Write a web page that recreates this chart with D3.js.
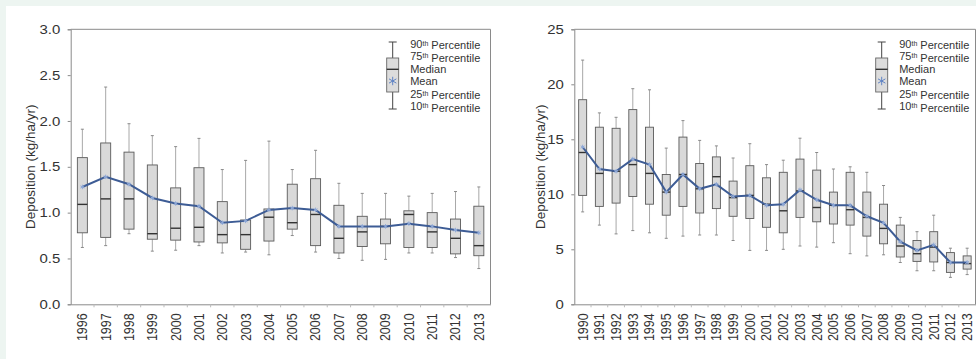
<!DOCTYPE html>
<meta charset="utf-8">
<script src="https://d3js.org/d3.v7.min.js"></script>
<style>
body { margin: 0; }
svg text { font-family: Arial, "Liberation Sans", sans-serif; fill: #333; }
.domain { stroke: #8a8a8a; }
.tick line { stroke: #8a8a8a; }
.whisker { stroke: #a8a8a8; stroke-width: 1; }
.cap { stroke: #8a8a8a; stroke-width: 1; }
.box { fill: #d9d9d9; stroke: #5a5a5a; stroke-width: 0.9; }
.median { stroke: #333; stroke-width: 1.4; }
.meanLine { fill: none; stroke: #3d5c95; stroke-width: 2; }
.meanMark { fill: none; stroke: #8fa9d8; stroke-width: 1; }
</style>
<body>
<script>

// left panel data (1996-2013)
var leftYears = ["1996","1997","1998","1999","2000","2001","2002","2003","2004","2005","2006","2007","2008","2009","2010","2011","2012","2013"];
var leftP90 = [1.91,2.37,1.97,1.84,1.72,1.81,1.47,1.57,1.78,1.47,1.68,1.32,1.21,1.21,1.18,1.21,1.23,1.28];
var leftP75 = [1.60,1.76,1.66,1.52,1.27,1.49,1.12,0.92,1.04,1.31,1.37,1.08,0.96,0.93,1.02,1.00,0.93,1.07];
var leftMedian = [1.09,1.15,1.15,0.77,0.83,0.84,0.76,0.76,0.95,0.89,0.98,0.72,0.79,0.85,0.98,0.79,0.72,0.64];
var leftMean = [1.28,1.39,1.31,1.16,1.10,1.07,0.89,0.91,1.03,1.05,1.03,0.85,0.85,0.85,0.88,0.85,0.81,0.78];
var leftP25 = [0.78,0.73,0.82,0.71,0.70,0.68,0.67,0.60,0.69,0.82,0.64,0.56,0.63,0.66,0.62,0.62,0.55,0.53];
var leftP10 = [0.62,0.64,0.77,0.58,0.59,0.64,0.56,0.57,0.54,0.75,0.57,0.50,0.48,0.49,0.56,0.56,0.51,0.39];
var leftTicks = [0, 0.5, 1.0, 1.5, 2.0, 2.5, 3.0];

// right panel data (1990-2013)
var rightYears = ["1990","1991","1992","1993","1994","1995","1996","1997","1998","1999","2000","2001","2002","2003","2004","2005","2006","2007","2008","2009","2010","2011","2012","2013"];
var rightP90 = [22.2,17.4,17.0,19.6,19.5,14.2,16.7,14.9,14.4,13.3,14.6,12.7,13.1,15.1,13.8,12.3,12.5,12.0,10.8,7.9,6.6,8.1,5.1,5.1];
var rightP75 = [18.6,16.1,16.0,17.7,16.1,11.8,15.2,12.8,13.4,11.2,12.6,11.5,12.0,13.2,12.2,10.2,12.0,10.2,9.1,7.2,5.8,6.6,4.7,4.4];
var rightMedian = [13.8,11.9,12.1,12.7,11.9,10.2,11.8,10.5,11.6,9.7,9.9,9.1,8.5,10.3,8.8,9.0,8.6,7.9,6.9,5.3,4.6,5.2,3.8,3.7];
var rightMean = [14.3,12.3,12.1,13.2,12.7,10.2,11.8,10.5,10.9,9.8,9.9,9.0,9.1,10.4,9.5,9.0,9.0,8.0,7.4,5.7,4.9,5.4,3.8,3.8];
var rightP25 = [9.9,8.9,9.2,9.8,9.1,8.1,8.9,8.3,8.7,8.0,7.8,7.0,6.5,7.9,7.5,7.3,7.2,6.2,5.5,4.3,3.9,3.85,2.9,3.2];
var rightP10 = [8.4,7.2,6.4,6.7,6.5,6.0,6.2,6.3,6.3,5.8,4.9,4.9,5.0,5.3,5.2,5.6,4.6,4.4,4.5,3.8,3.05,3.05,2.45,2.7];
var rightTicks = [0, 5, 10, 15, 20, 25];

// legend rows
var legendLabels = [["90","th"," Percentile"],["75","th"," Percentile"],["Median"],["Mean"],["25","th"," Percentile"],["10","th"," Percentile"]];

var W = 976, H = 359;

var svg = d3.select("body").append("svg")
    .attr("width", W)
    .attr("height", H);

svg.append("rect").attr("width", W).attr("height", H).attr("fill", "#edf5f1");
svg.append("rect").attr("x", 6).attr("y", 6).attr("width", W - 6).attr("height", H - 6).attr("fill", "#fff");

function drawPanel(cfg) {
  var rows = cfg.years.map(function(yr, i) {
    return {year: yr, p90: cfg.p90[i], p75: cfg.p75[i], med: cfg.med[i], mean: cfg.mean[i], p25: cfg.p25[i], p10: cfg.p10[i]};
  });

  var x = d3.scaleBand().domain(cfg.years).range([cfg.x0, cfg.x1]);
  var y = d3.scaleLinear().domain([0, cfg.ymax]).range([304.3, 29.3]);
  var g = svg.append("g");
  var cx = function(d) { return x(d.year) + x.bandwidth() / 2; };

  // frame: top and right
  g.append("line").attr("x1", cfg.x0).attr("x2", cfg.x1).attr("y1", y(cfg.ymax)).attr("y2", y(cfg.ymax))
      .attr("stroke", "#8a8a8a");
  g.append("line").attr("x1", cfg.x1).attr("x2", cfg.x1).attr("y1", y(cfg.ymax)).attr("y2", y(0))
      .attr("stroke", "#8a8a8a");

  // y axis (labels a bit wide, like the source image)
  var ya = g.append("g")
      .attr("transform", "translate(" + cfg.x0 + ",0)")
      .call(d3.axisLeft(y).tickValues(cfg.ticks).tickFormat(cfg.fmt).tickSize(3).tickPadding(7));
  ya.selectAll("text")
      .attr("x", -10.5 / 1.15)
      .attr("transform", "scale(1.15,1)")
      .style("font-size", "13px");

  // x axis, labels rotated
  var xa = g.append("g")
      .attr("transform", "translate(0," + y(0) + ")")
      .call(d3.axisBottom(x).tickSize(0));
  xa.selectAll("text")
      .attr("x", -9).attr("y", 0).attr("dy", "0.35em")
      .attr("transform", "rotate(-90) scale(1,1.12)")
      .style("text-anchor", "end")
      .style("font-size", "12.5px");
  // small boundary ticks
  g.selectAll(".bt").data(cfg.years.slice(1)).enter().append("line")
      .attr("x1", function(d) { return x(d); }).attr("x2", function(d) { return x(d); })
      .attr("y1", y(0)).attr("y2", y(0) + 3)
      .attr("stroke", "#bbb");

  // axis title
  g.append("text")
      .attr("transform", "translate(" + cfg.titleX + "," + (y(0) + y(cfg.ymax)) / 2 + ") rotate(-90)")
      .attr("text-anchor", "middle")
      .attr("dy", "0.35em")
      .style("font-size", "13.5px")
      .text("Deposition (kg/ha/yr)");

  var bw = cfg.boxW, cw = 3;

  var box = g.selectAll(".bp").data(rows).enter().append("g");
  box.append("line").attr("class", "whisker")
      .attr("x1", cx).attr("x2", cx)
      .attr("y1", function(d) { return y(d.p90); }).attr("y2", function(d) { return y(d.p75); });
  box.append("line").attr("class", "whisker")
      .attr("x1", cx).attr("x2", cx)
      .attr("y1", function(d) { return y(d.p25); }).attr("y2", function(d) { return y(d.p10); });
  box.append("line").attr("class", "cap")
      .attr("x1", function(d) { return cx(d) - cw / 2; }).attr("x2", function(d) { return cx(d) + cw / 2; })
      .attr("y1", function(d) { return y(d.p90); }).attr("y2", function(d) { return y(d.p90); });
  box.append("line").attr("class", "cap")
      .attr("x1", function(d) { return cx(d) - cw / 2; }).attr("x2", function(d) { return cx(d) + cw / 2; })
      .attr("y1", function(d) { return y(d.p10); }).attr("y2", function(d) { return y(d.p10); });
  box.append("rect").attr("class", "box")
      .attr("x", function(d) { return cx(d) - bw / 2; })
      .attr("width", bw)
      .attr("y", function(d) { return y(d.p75); })
      .attr("height", function(d) { return y(d.p25) - y(d.p75); });
  box.append("line").attr("class", "median")
      .attr("x1", function(d) { return cx(d) - bw / 2; }).attr("x2", function(d) { return cx(d) + bw / 2; })
      .attr("y1", function(d) { return y(d.med); }).attr("y2", function(d) { return y(d.med); });

  // mean line with markers
  var line = d3.line().x(cx).y(function(d) { return y(d.mean); });
  g.append("path").datum(rows).attr("class", "meanLine").attr("d", line);
  g.selectAll(".mm").data(rows).enter().append("path")
      .attr("class", "meanMark")
      .attr("transform", function(d) { return "translate(" + cx(d) + "," + y(d.mean) + ")"; })
      .attr("d", d3.symbol().type(d3.symbolAsterisk).size(14));

  // legend
  var lg = g.append("g").attr("transform", "translate(" + cfg.legX + ",0)");
  lg.append("line").attr("x1", 0).attr("x2", 0).attr("y1", 42).attr("y2", 109).attr("stroke", "#444");
  lg.append("line").attr("x1", -4).attr("x2", 4).attr("y1", 42).attr("y2", 42).attr("stroke", "#444");
  lg.append("line").attr("x1", -4).attr("x2", 4).attr("y1", 109).attr("y2", 109).attr("stroke", "#444");
  lg.append("rect").attr("x", -6).attr("y", 58).attr("width", 12).attr("height", 34)
      .attr("fill", "#dcdcdc").attr("stroke", "#666").attr("stroke-width", 0.9);
  lg.append("line").attr("x1", -6).attr("x2", 6).attr("y1", 69.3).attr("y2", 69.3).attr("stroke", "#333").attr("stroke-width", 1.4);
  lg.append("path").attr("transform", "translate(0,81)")
      .attr("d", d3.symbol().type(d3.symbolAsterisk).size(50))
      .attr("fill", "none").attr("stroke", "#5f83c4").attr("stroke-width", 1);

  var lt = lg.selectAll(".lt").data(legendLabels).enter().append("text")
      .attr("x", cfg.legTextDx)
      .attr("y", function(d, i) { return 44 + i * 12.5; })
      .attr("dy", "0.35em")
      .style("font-size", "11px");
  lt.each(function(d) {
    var t = d3.select(this);
    t.append("tspan").text(d[0]);
    if (d.length > 1) {
      t.append("tspan").attr("dy", "-0.3em").style("font-size", "7px").text(d[1]);
      t.append("tspan").attr("dy", "0.3em").text(d[2]);
    }
  });
}

drawPanel({years: leftYears, p90: leftP90, p75: leftP75, med: leftMedian, mean: leftMean, p25: leftP25, p10: leftP10,
  x0: 70.7, x1: 490.5, ymax: 3, ticks: leftTicks, fmt: d3.format(".1f"), titleX: 30,
  boxW: 10, legX: 392.7, legTextDx: 17.5});

drawPanel({years: rightYears, p90: rightP90, p75: rightP75, med: rightMedian, mean: rightMean, p25: rightP25, p10: rightP10,
  x0: 574.3, x1: 975.5, ymax: 25, ticks: rightTicks, fmt: d3.format("d"), titleX: 540,
  boxW: 8, legX: 881.7, legTextDx: 17.5});

</script>
</body>
</html>
